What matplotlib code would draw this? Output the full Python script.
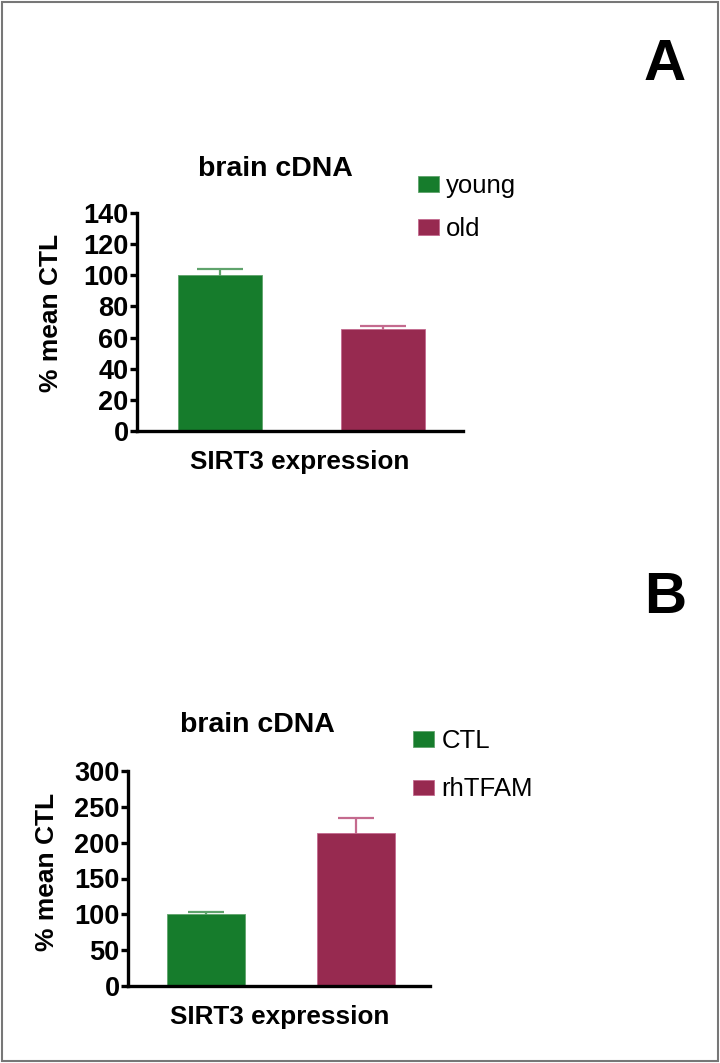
import matplotlib
matplotlib.use("Agg")
import matplotlib.pyplot as plt
from matplotlib.patches import Rectangle

plt.rcParams['font.family'] = ['Liberation Sans', 'DejaVu Sans']

# Panel A data
a_groups = ["young", "old"]
a_values = [100.3, 65.5]
a_errors = [3.8, 1.9]
a_yticks = [0, 20, 40, 60, 80, 100, 120, 140]

# Panel B data
b_groups = ["CTL", "rhTFAM"]
b_values = [100.5, 213.5]
b_errors = [2.5, 21.0]
b_yticks = [0, 50, 100, 150, 200, 250, 300]

title_text = "brain cDNA"
xlabel_text = "SIRT3 expression"
ylabel_text = "% mean CTL"

bar_colors = ["#167C2C", "#972A50"]
err_colors = ["#5FA36C", "#C46A8E"]

W, H = 720, 1063
fig = plt.figure(figsize=(W / 100, H / 100), dpi=100)

def px_axes(left, right, top, bottom):
    return fig.add_axes([left / W, 1 - bottom / H, (right - left) / W, (bottom - top) / H])

def panel(ax, groups, values, errors, yticks, width, xlim, capsizes, leg_xy, title_xy,
          xlabel_y, ylab_xy, lspace):
    xs = list(range(len(groups)))
    bars = []
    for i, (g, v, e) in enumerate(zip(groups, values, errors)):
        ax.errorbar(xs[i], v, yerr=e, fmt='none', ecolor=err_colors[i],
                    elinewidth=1.6, capsize=capsizes[i], capthick=1.6, zorder=1)
        b = ax.bar(xs[i], v, width=width, color=bar_colors[i], label=g, zorder=2,
                   edgecolor=err_colors[i], linewidth=0.6)
        bars.append(b)
    ax.set_ylim(yticks[0], yticks[-1])
    ax.set_xlim(*xlim)
    ax.set_yticks(yticks)
    ax.set_yticklabels([str(t) for t in yticks], fontsize=19.5, fontweight='bold')
    ax.set_xticks([])
    for s in ['top', 'right']:
        ax.spines[s].set_visible(False)
    for s in ['left', 'bottom']:
        ax.spines[s].set_linewidth(2.4)
    ax.tick_params(axis='y', length=5, width=2.4, pad=1)
    ax.set_ylabel(ylabel_text, fontsize=19, fontweight='bold')
    ax.yaxis.set_label_coords(*ylab_xy)
    fig.text(title_xy[0] / W, 1 - title_xy[1] / H, title_text, fontsize=20.5,
             fontweight='bold', ha='center', va='center')
    fig.text(title_xy[2] / W, 1 - xlabel_y / H, xlabel_text, fontsize=18.8,
             fontweight='bold', ha='center', va='center')
    fig.legend(handles=[b[0] for b in bars], labels=groups, loc='upper left',
               bbox_to_anchor=(leg_xy[0] / W, 1 - leg_xy[1] / H), frameon=False,
               fontsize=18.5, borderpad=0, borderaxespad=0, handlelength=0.8,
               handleheight=0.55, handletextpad=0.3, labelspacing=lspace)

axA = px_axes(137, 463, 213, 431)
panel(axA, a_groups, a_values, a_errors, a_yticks, 0.517, (-0.511, 1.495),
      (16.5, 16.5), (418, 174), (275, 169, 300), 462, (-0.226, 0.541), 0.75)

axB = px_axes(128, 430, 771, 986)
panel(axB, b_groups, b_values, b_errors, b_yticks, 0.52, (-0.52, 1.493),
      (13, 13), (413, 729), (257, 725, 280), 1017, (-0.228, 0.53), 0.95)

fig.text(665 / W, 1 - 65 / H, "A", fontsize=42, fontweight='bold', ha='center', va='center')
fig.text(665 / W, 1 - 598 / H, "B", fontsize=42, fontweight='bold', ha='center', va='center')

fig.patches.append(Rectangle((2 / W, 2 / H), (W - 4) / W, (H - 4) / H, transform=fig.transFigure,
                             fill=False, edgecolor='#777777', linewidth=1.5))

fig.savefig("out.png", dpi=100)
